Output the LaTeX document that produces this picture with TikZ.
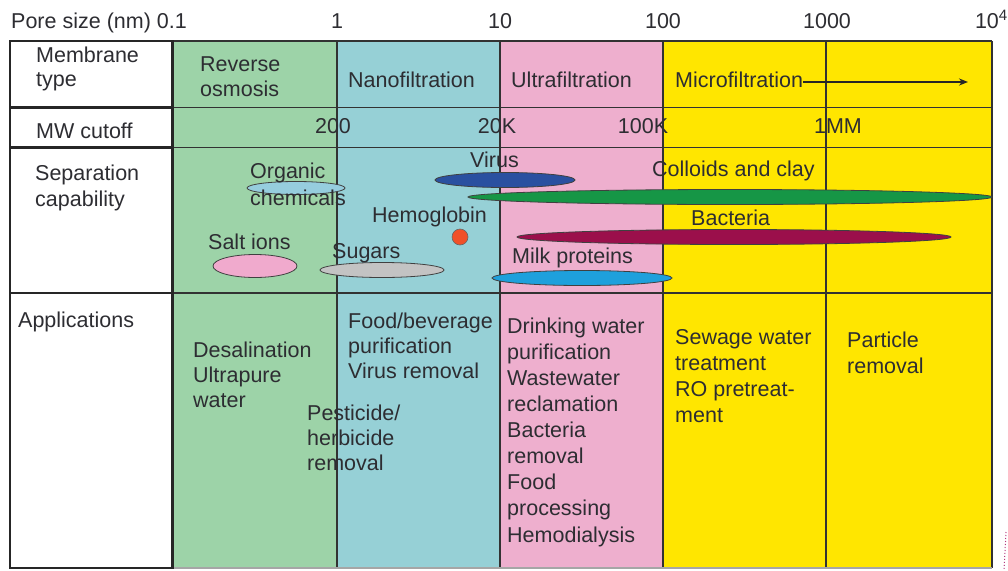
\documentclass[tikz,border=0pt]{standalone}
\usepackage{fontspec}
\setmainfont{Liberation Sans}
\usetikzlibrary{shapes.geometric,arrows.meta}
\definecolor{rogreen}{RGB}{157,211,168}
\definecolor{nfblue}{RGB}{150,208,214}
\definecolor{ufpink}{RGB}{238,175,206}
\definecolor{mfyellow}{RGB}{255,230,0}
\definecolor{txtcol}{RGB}{45,45,50}
\definecolor{gridcol}{RGB}{50,50,50}
\definecolor{virusblue}{RGB}{42,80,160}
\definecolor{colloidgreen}{RGB}{22,150,70}
\definecolor{bactred}{RGB}{155,15,75}
\definecolor{milkblue}{RGB}{30,160,220}
\definecolor{orgblue}{RGB}{150,205,222}
\definecolor{saltpink}{RGB}{240,170,205}
\definecolor{sugargray}{RGB}{195,195,195}
\definecolor{hemored}{RGB}{240,80,40}
\begin{document}
\begin{tikzpicture}[x=1pt,y=-1pt,
  txt/.style={inner sep=0pt, anchor=base west, align=left, text=txtcol,
    font=\fontsize{21.5}{25.8}\selectfont},
  ctxt/.style={txt, anchor=base},
  blob/.style={ellipse, draw=black!75, line width=0.8pt, inner sep=0pt},
  gridline/.style={draw=gridcol, line width=1.2pt},
  boxline/.style={draw=black!85, line width=2.6pt}]
\useasboundingbox (0,0) rectangle (1008,570);
\fill[white] (0,0) rectangle (1008,570);
% column fills
\fill[rogreen] (172.5,41) rectangle (337,568);
\fill[nfblue] (337,41) rectangle (500,568);
\fill[ufpink] (500,41) rectangle (663,568);
\fill[mfyellow] (663,41) rectangle (992,568);
% grid
\draw[gridline] (172.5,41) -- (992,41);
\foreach \yy in {107.5,147.5,293} \draw[gridline] (172.5,\yy) -- (992,\yy);
\foreach \xx in {337,500,663,826,992} \draw[gridline] (\xx,41) -- (\xx,568);
\draw[draw=black!35, line width=1.2pt] (10,568) -- (992,568);
\draw[boxline] (10,41) rectangle (172.5,568);
\foreach \yy in {107.5,147.5,293} \draw[boxline] (10,\yy) -- (172.5,\yy);
% scale labels
\node[txt] (pore) at (11,28) {Pore size (nm) 0.1};
\node[ctxt] (p1) at (337,28) {1};
\node[ctxt] (p10) at (500,28) {10};
\node[ctxt] (p100) at (663,28) {100};
\node[ctxt] (p1000) at (827,28) {1000};
\node[txt, anchor=base east] (p10k) at (1008,28) {10\textsuperscript{4}};
% row labels (multi-line nodes are placed at the baseline of their last line)
\node[txt] (lmem) at (36,86) {Membrane\\[-1.8pt]type};
\node[txt] (lmw) at (36,138) {MW cutoff};
\node[txt] (lsep) at (35,206) {Separation\\capability};
\node[txt] (lapp) at (18,327) {Applications};
% membrane types
\node[txt] (ro) at (200,96) {Reverse\\[-0.8pt]osmosis};
\node[txt] (nf) at (348,87) {Nanofiltration};
\node[txt] (uf) at (511,87) {Ultrafiltration};
\node[txt] (mf) at (675,87) {Microfiltration};
\coordinate (mfend) at (968,82);
\draw[draw=black!85, line width=1.6pt, -{Stealth[length=9pt,width=7pt]}] ([yshift=5pt]mf.base east) -- (mfend);
% MW cutoff
\node[ctxt] (mw200) at (333,133) {200};
\node[ctxt] (mw20k) at (497,133) {20K};
\node[ctxt] (mw100k) at (643,133) {100K};
\node[ctxt] (mw1mm) at (838,133) {1MM};
% separation ellipses
\node[blob, fill=orgblue, minimum width=98pt, minimum height=13pt] (eorg) at (296,188) {};
\node[blob, fill=virusblue, minimum width=140pt, minimum height=15pt] (evirus) at (505,180) {};
\node[blob, fill=colloidgreen, minimum width=524pt, minimum height=15pt] (ecolloid) at (730,197) {};
\node[blob, fill=bactred, minimum width=434pt, minimum height=15pt] (ebact) at (734,237) {};
\node[blob, fill=milkblue, minimum width=180pt, minimum height=15pt] (emilk) at (582,278) {};
\node[blob, fill=saltpink, minimum width=84pt, minimum height=23pt] (esalt) at (255,266) {};
\node[blob, fill=sugargray, minimum width=124pt, minimum height=15pt] (esugar) at (382,270) {};
\node[circle, draw=black!60, line width=0.6pt, fill=hemored, minimum size=16pt, inner sep=0pt] (ehemo) at (460,237) {};
% separation labels
\node[txt] (torg) at (250,205) {Organic\\[1.2pt]chemicals};
\node[txt] (tvirus) at (470,167) {Virus};
\node[txt] (tcolloid) at (652,176) {Colloids and clay};
\node[txt] (themo) at (372,222) {Hemoglobin};
\node[txt] (tbact) at (691,225) {Bacteria};
\node[txt] (tsalt) at (208,249) {Salt ions};
\node[txt] (tsugar) at (332,258) {Sugars};
\node[txt] (tmilk) at (512,263) {Milk proteins};
% applications
\node[txt] (aro) at (193,407) {Desalination\\[-0.8pt]Ultrapure\\[-0.8pt]water};
\node[txt] (anf) at (348,378) {Food/beverage\\[-0.8pt]purification\\[-0.8pt]Virus removal};
\node[txt] (apest) at (307,470) {Pesticide/\\[-0.8pt]herbicide\\[-0.8pt]removal};
\node[txt] (auf) at (507,542) {Drinking water\\[0.3pt]purification\\[0.3pt]Wastewater\\[0.3pt]reclamation\\[0.3pt]Bacteria\\[0.3pt]removal\\[0.3pt]Food\\[0.3pt]processing\\[0.3pt]Hemodialysis};
\node[txt] (amf) at (675,422) {Sewage water\\treatment\\RO pretreat-\\ment};
\node[txt] (apart) at (847,373) {Particle\\removal};
% edge mark
\draw[draw=magenta!70!black, line width=1pt, dotted] (1006,532) -- (1004,570);
\end{tikzpicture}
\end{document}
